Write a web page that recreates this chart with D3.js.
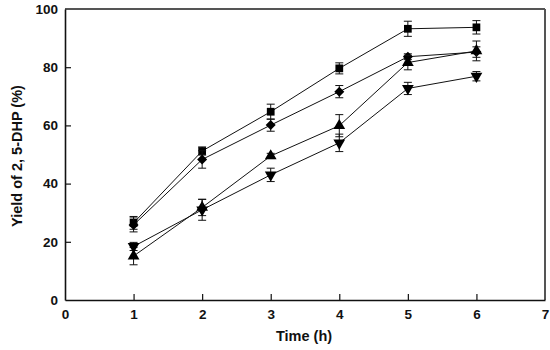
<!DOCTYPE html>
<html><head><meta charset="utf-8">
<script src="https://cdn.jsdelivr.net/npm/d3@7"></script>
<style>body{margin:0;background:#fff}svg{display:block}</style>
</head><body>
<svg id="c" width="550" height="350"></svg>
<script>
const times = [1, 2, 3, 4, 5, 6];
const squareY = [26.5, 51.2, 64.7, 79.6, 93.2, 93.7];
const squareE = [2.2, 1.4, 2.6, 1.9, 2.6, 2.3];
const diamondY = [25.8, 48.3, 60.1, 71.6, 83.6, 85.2];
const diamondE = [2.4, 3.0, 2.1, 2.1, 1.0, 1.8];
const triUpY = [15.1, 31.8, 49.5, 59.9, 81.6, 85.6];
const triUpE = [3.0, 2.8, 0.9, 3.8, 2.5, 3.4];
const triDownY = [18.4, 31.0, 43.0, 54.0, 72.7, 76.9];
const triDownE = [1.4, 3.6, 2.3, 3.0, 2.1, 1.6];
const xTicks = [0, 1, 2, 3, 4, 5, 6, 7];
const yTicks = [0, 20, 40, 60, 80, 100];

const svg = d3.select("#c");
const L = 65, R = 545, T = 9, B = 300;
const x = d3.scaleLinear().domain([0, 7]).range([L, R]);
const y = d3.scaleLinear().domain([0, 100]).range([B, T]);
const font = "'Liberation Sans', Arial, sans-serif";

// frame top/right
svg.append("line").attr("x1", L).attr("x2", R).attr("y1", T).attr("y2", T)
  .attr("stroke", "#555").attr("stroke-width", 2);
svg.append("line").attr("x1", R).attr("x2", R).attr("y1", T).attr("y2", B)
  .attr("stroke", "#555").attr("stroke-width", 2);

const xa = svg.append("g").attr("transform", `translate(0,${B})`)
  .call(d3.axisBottom(x).tickValues(xTicks).tickFormat(d3.format("d")).tickSizeInner(-6).tickSizeOuter(0).tickPadding(9));
const ya = svg.append("g").attr("transform", `translate(${L},0)`)
  .call(d3.axisLeft(y).tickValues(yTicks).tickFormat(d3.format("d")).tickSizeInner(-6).tickSizeOuter(0).tickPadding(7));
[xa, ya].forEach(a => {
  a.select(".domain").attr("stroke", "#111").attr("stroke-width", 1.6);
  a.selectAll(".tick line").attr("stroke", "#111").attr("stroke-width", 1.2);
  a.selectAll(".tick text").attr("font-family", font).attr("font-weight", "bold")
    .attr("font-size", 13.5).attr("fill", "#111");
});
xa.selectAll(".tick").filter(d => d === 0 || d === 7).select("line").remove();
ya.selectAll(".tick").filter(d => d === 0 || d === 100).select("line").remove();

svg.append("text").attr("x", 304).attr("y", 341).attr("text-anchor", "middle")
  .attr("font-family", font).attr("font-weight", "bold").attr("font-size", 14.5).attr("fill", "#111")
  .text("Time (h)");
svg.append("text").attr("transform", `translate(22,156) rotate(-90)`)
  .attr("text-anchor", "middle").attr("font-family", font).attr("font-weight", "bold")
  .attr("font-size", 14.5).attr("fill", "#111").text("Yield of 2, 5-DHP (%)");

const series = [
  { ys: squareY, es: squareE, sym: d3.symbolSquare, size: 60, rot: 0 },
  { ys: diamondY, es: diamondE, sym: d3.symbolSquare, size: 50, rot: 45 },
  { ys: triUpY, es: triUpE, sym: d3.symbolTriangle, size: 60, rot: 0 },
  { ys: triDownY, es: triDownE, sym: d3.symbolTriangle, size: 60, rot: 180 }
];
const line = d3.line().x(d => x(d[0])).y(d => y(d[1]));
series.forEach(s => {
  const pts = times.map((t, i) => [t, s.ys[i], s.es[i]]);
  svg.append("path").attr("d", line(pts)).attr("fill", "none").attr("stroke", "#111").attr("stroke-width", 1);
  const g = svg.append("g");
  pts.forEach(p => {
    const cx = x(p[0]);
    g.append("line").attr("x1", cx).attr("x2", cx).attr("y1", y(p[1] - p[2])).attr("y2", y(p[1] + p[2]))
      .attr("stroke", "#111").attr("stroke-width", 1);
    [p[1] - p[2], p[1] + p[2]].forEach(v => {
      g.append("line").attr("x1", cx - 4).attr("x2", cx + 4).attr("y1", y(v)).attr("y2", y(v))
        .attr("stroke", "#111").attr("stroke-width", 1);
    });
    g.append("path").attr("d", d3.symbol().type(s.sym).size(s.size)())
      .attr("transform", `translate(${cx},${y(p[1])}) rotate(${s.rot})`).attr("fill", "#000");
  });
});
</script>
</body></html>
